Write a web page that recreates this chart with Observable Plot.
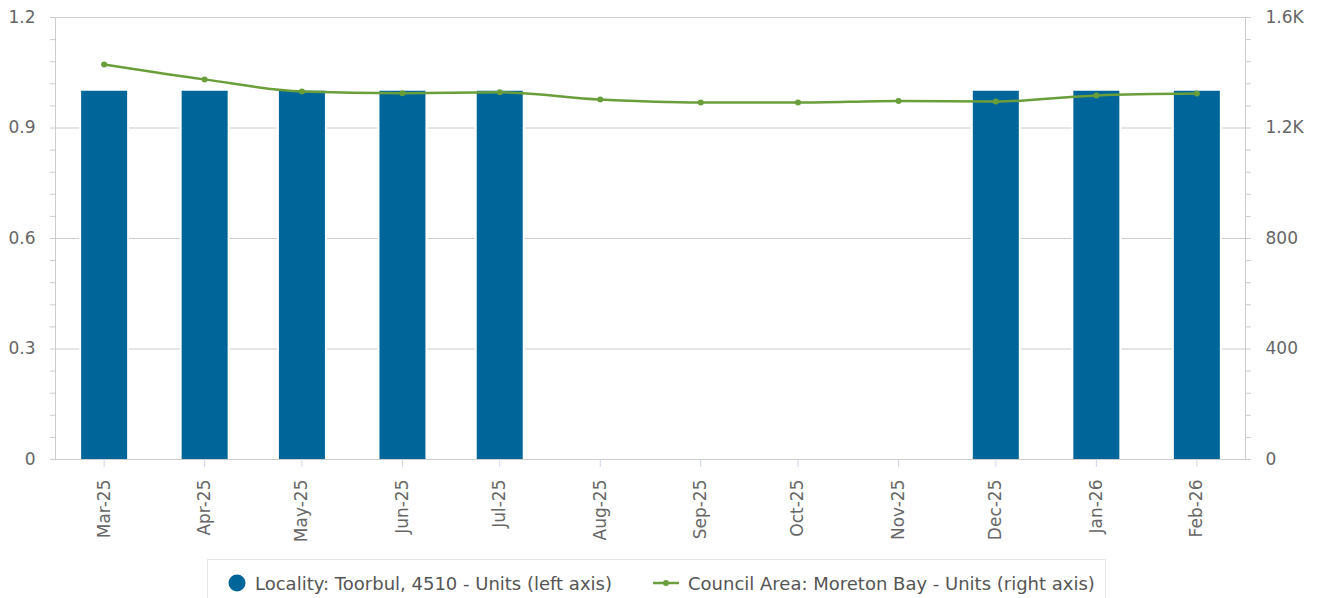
<!DOCTYPE html>
<html>
<head>
<meta charset="utf-8">
<script src="https://cdn.jsdelivr.net/npm/d3@7"></script>
<script src="https://cdn.jsdelivr.net/npm/@observablehq/plot@0.6"></script>
<style>
  html, body { margin: 0; padding: 0; background: #fff; }
  body { font-family: "DejaVu Sans", sans-serif; width: 1319px; height: 598px; position: relative; overflow: hidden; }
  #chart { position: absolute; left: 0; top: 0; }
  #legend { position: absolute; left: 207px; top: 559px; width: 899px; height: 48px; border: 1px solid #e6e6e6; box-sizing: border-box; background: #fff; }
  #legend .item { position: absolute; top: 0; height: 46px; display: flex; align-items: center; font-size: 18px; color: #555; white-space: nowrap; }
  #legend svg { display: block; margin-right: 8px; }
</style>
</head>
<body>
<div id="chart"></div>
<div id="legend"></div>
<script>
// ---- data ----
const monthLabels = ["Mar-25","Apr-25","May-25","Jun-25","Jul-25","Aug-25","Sep-25","Oct-25","Nov-25","Dec-25","Jan-26","Feb-26"];
const monthDates = ["2025-03-01","2025-04-01","2025-05-01","2025-06-01","2025-07-01","2025-08-01","2025-09-01","2025-10-01","2025-11-01","2025-12-01","2026-01-01","2026-02-01"];
const localityUnits = [1, 1, 1, 1, 1, null, null, null, null, 1, 1, 1];
const councilUnits = [1430, 1376, 1332, 1326, 1329, 1303, 1292, 1292, 1298, 1296, 1318, 1325];
const leftTicks = [0, 0.3, 0.6, 0.9, 1.2];
const rightTicks = [0, 400, 800, 1200, 1600];
const rightTickLabels = ["0", "400", "800", "1.2K", "1.6K"];
const seriesNames = ["Locality: Toorbul, 4510 - Units (left axis)", "Council Area: Moreton Bay - Units (right axis)"];

const blue = "#006699";
const green = "#6a9e3a";
const leftMax = 1.2, rightMax = 1600;
const toLeft = v => v * leftMax / rightMax;

const rows = monthLabels.map((m, i) => ({
  label: m,
  date: new Date(monthDates[i] + "T00:00:00Z"),
  loc: localityUnits[i],
  council: councilUnits[i]
}));
const barRows = rows.filter(d => d.loc != null);
const labelByTime = new Map(rows.map(d => [+d.date, d.label]));

const leftMinor = d3.range(0, 21).map(i => i * 0.06);
const rightMinor = d3.range(0, 21).map(i => toLeft(i * 80));

const chart = Plot.plot({
  width: 1319,
  height: 555,
  marginLeft: 55,
  marginRight: 74,
  marginTop: 17,
  marginBottom: 96,
  style: { fontFamily: "DejaVu Sans, sans-serif", fontSize: "17px", color: "#666", background: "#fff" },
  x: { type: "utc", domain: [new Date(Date.UTC(2025, 1, 14)), new Date(Date.UTC(2026, 1, 16))], label: null },
  y: { domain: [0, leftMax], label: null },
  marks: [
    Plot.gridY(leftTicks, { stroke: "#cccccc", strokeOpacity: 1 }),
    Plot.ruleX(barRows, { x: "date", y1: 0, y2: "loc", stroke: "#ffffff", strokeWidth: 50 }),
    Plot.ruleX(barRows, { x: "date", y1: 0, y2: "loc", stroke: blue, strokeWidth: 46 }),
    Plot.frame({ stroke: "#cccccc" }),
    // left axis
    Plot.axisY(leftMinor, { anchor: "left", tickSize: 5, stroke: "#cccccc", text: null, label: null }),
    Plot.axisY(leftTicks, { anchor: "left", tickSize: 0, tickPadding: 20, tickFormat: d => d3.format("~g")(d), fill: "#666", label: null }),
    // right axis
    Plot.axisY(rightMinor, { anchor: "right", tickSize: 5, stroke: "#cccccc", text: null, label: null }),
    Plot.axisY(rightTicks.map(toLeft), { anchor: "right", tickSize: 0, tickPadding: 20, tickFormat: (d, i) => rightTickLabels[i], fill: "#666", label: null }),
    // x axis
    Plot.axisX(rows.map(d => d.date), { anchor: "bottom", tickSize: 8, stroke: "#ccd6eb", tickPadding: 12, tickRotate: -90, tickFormat: d => labelByTime.get(+d), fill: "#666", label: null }),
    // line
    Plot.line(rows, { x: "date", y: d => toLeft(d.council), stroke: green, strokeWidth: 2.5, curve: "monotone-x" }),
    Plot.dot(rows, { x: "date", y: d => toLeft(d.council), r: 3, fill: green, stroke: "none" })
  ]
});
document.getElementById("chart").appendChild(chart);

// legend
const legend = document.getElementById("legend");
const item1 = document.createElement("div");
item1.className = "item";
item1.style.left = "19px";
item1.innerHTML = `<svg width="20" height="20"><circle cx="10" cy="10" r="8.5" fill="${blue}"/></svg><span></span>`;
item1.querySelector("span").textContent = seriesNames[0];
legend.appendChild(item1);
const item2 = document.createElement("div");
item2.className = "item";
item2.style.left = "444px";
item2.innerHTML = `<svg width="28" height="20"><line x1="1" y1="10" x2="27" y2="10" stroke="${green}" stroke-width="2.5"/><circle cx="14" cy="10" r="3" fill="${green}"/></svg><span></span>`;
item2.querySelector("span").textContent = seriesNames[1];
legend.appendChild(item2);
</script>
</body>
</html>
